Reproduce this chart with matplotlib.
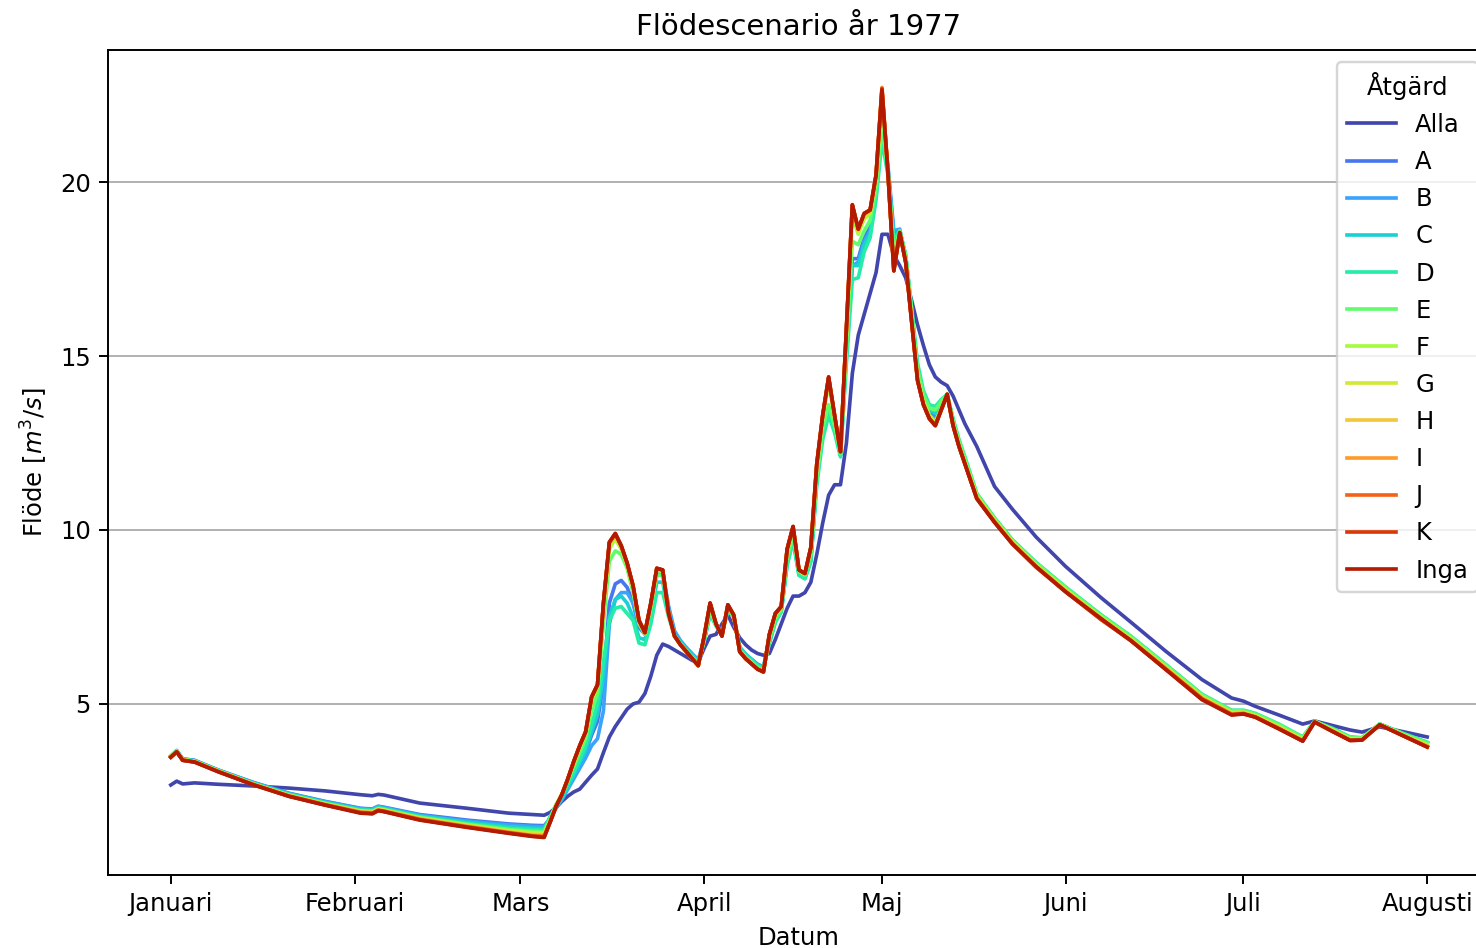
import matplotlib
matplotlib.use("Agg")
import matplotlib.pyplot as plt
import numpy as np
import pandas as pd

# ---- data -------------------------------------------------------------
start_date = "1977-01-01"
day_offsets = ([0, 1, 2, 4, 8, 14, 20, 26, 32, 34, 35, 36, 42, 50, 57, 61, 63]
               + list(range(64, 135))
               + [136, 139, 142, 146, 151, 157, 162, 168, 174, 179, 181, 183, 187,
                  191, 193, 196, 199, 201, 204, 208, 212])

month_ticks = ["1977-01-01", "1977-02-01", "1977-03-01", "1977-04-01",
               "1977-05-01", "1977-06-01", "1977-07-01", "1977-08-01"]
month_labels = ["Januari", "Februari", "Mars", "April", "Maj", "Juni", "Juli", "Augusti"]

series_names = ["Alla", "A", "B", "C", "D", "E", "F", "G", "H", "I", "J", "K", "Inga"]

alla = ([2.67, 2.78, 2.70, 2.73, 2.69, 2.64, 2.58, 2.50, 2.39, 2.36, 2.40, 2.38, 2.15, 2.00, 1.86, 1.82, 1.80]
        + [1.88, 2.02, 2.20, 2.35, 2.47, 2.55, 2.75, 2.95, 3.13, 3.60,
           4.05, 4.35, 4.60, 4.85, 5.00, 5.05, 5.30, 5.80, 6.40, 6.72,
           6.65, 6.55, 6.45, 6.35, 6.25, 6.20, 6.60, 6.95, 7.00, 7.30,
           7.55, 7.20, 6.90, 6.70, 6.55, 6.45, 6.40, 6.45, 6.85, 7.30,
           7.75, 8.10, 8.10, 8.20, 8.50, 9.30, 10.2, 11.0, 11.3, 11.3,
           12.5, 14.5, 15.6, 16.2, 16.8, 17.4, 18.5, 18.5, 17.9, 17.6,
           17.25, 16.6, 15.9, 15.3, 14.75, 14.4, 14.25, 14.15, 13.85, 13.45,
           13.05]
        + [12.4, 11.25, 10.6, 9.8, 8.95, 8.05, 7.35, 6.5, 5.7, 5.17, 5.08, 4.93, 4.68,
           4.42, 4.51, 4.38, 4.25, 4.19, 4.34, 4.2, 4.05])

a_vals = ([3.50, 3.66, 3.42, 3.38, 3.10, 2.74, 2.43, 2.20, 2.00, 1.98, 2.06, 2.03, 1.82, 1.66, 1.55, 1.51, 1.50]
          + [1.70, 2.05, 2.30, 2.60, 2.95, 3.25, 3.60, 4.10, 4.50, 5.60,
             7.90, 8.45, 8.55, 8.35, 7.90, 7.20, 7.00, 7.70, 8.70, 8.75,
             7.75, 7.05, 6.80, 6.60, 6.42, 6.25, 6.85, 7.65, 7.30, 7.05,
             7.75, 7.50, 6.62, 6.42, 6.28, 6.14, 6.06, 6.80, 7.40, 7.70,
             9.10, 9.80, 8.75, 8.65, 9.20, 11.5, 12.9, 13.5, 12.9, 12.15,
             15.4, 17.8, 17.8, 18.4, 18.7, 19.8, 21.9, 20.4, 18.5, 18.6,
             17.8, 16.1, 14.5, 13.8, 13.35, 13.25, 13.6, 13.9, 13.1, 12.5,
             12.0]
          + [11.0, 10.32, 9.7, 9.05, 8.33, 7.53, 6.92, 6.1, 5.25, 4.8, 4.8, 4.7, 4.39,
             4.02, 4.49, 4.28, 4.03, 4.02, 4.42, 4.14, 3.88])

b_vals = ([3.50, 3.66, 3.42, 3.37, 3.10, 2.73, 2.42, 2.19, 1.99, 1.97, 2.05, 2.02, 1.80, 1.63, 1.52, 1.48, 1.47]
          + [1.70, 2.00, 2.25, 2.55, 2.85, 3.15, 3.45, 3.80, 4.00, 4.80,
             7.30, 8.00, 8.20, 8.20, 7.90, 7.30, 7.05, 7.75, 8.75, 8.80,
             7.80, 7.10, 6.82, 6.62, 6.44, 6.26, 6.85, 7.65, 7.30, 7.05,
             7.75, 7.50, 6.63, 6.43, 6.28, 6.14, 6.06, 6.80, 7.40, 7.70,
             9.10, 9.80, 8.75, 8.65, 9.20, 11.5, 12.9, 13.4, 12.9, 12.15,
             15.3, 17.6, 17.7, 18.3, 18.6, 19.8, 21.8, 20.5, 18.6, 18.65,
             17.8, 16.1, 14.5, 13.8, 13.3, 13.2, 13.6, 13.9, 13.1, 12.5,
             12.0]
          + [11.0, 10.31, 9.69, 9.04, 8.32, 7.52, 6.91, 6.09, 5.24, 4.79, 4.79, 4.69, 4.38,
             4.01, 4.49, 4.28, 4.02, 4.01, 4.41, 4.13, 3.87])

c_vals = ([3.49, 3.65, 3.41, 3.37, 3.09, 2.72, 2.41, 2.17, 1.97, 1.95, 2.03, 2.00, 1.78, 1.60, 1.47, 1.43, 1.42]
          + [1.75, 2.05, 2.30, 2.60, 2.95, 3.30, 3.65, 4.20, 4.70, 5.80,
             7.50, 8.00, 8.10, 7.90, 7.50, 6.90, 6.85, 7.50, 8.50, 8.50,
             7.60, 7.00, 6.78, 6.58, 6.40, 6.22, 6.80, 7.60, 7.25, 7.00,
             7.70, 7.50, 6.62, 6.42, 6.27, 6.12, 6.05, 6.75, 7.35, 7.65,
             9.00, 9.70, 8.70, 8.60, 9.10, 11.4, 12.8, 13.4, 12.9, 12.15,
             15.0, 17.6, 17.6, 18.2, 18.5, 19.6, 21.4, 20.3, 18.4, 18.6,
             17.9, 16.3, 14.7, 13.9, 13.45, 13.35, 13.65, 13.9, 13.15, 12.55,
             12.05]
          + [11.02, 10.33, 9.7, 9.05, 8.34, 7.54, 6.93, 6.1, 5.26, 4.8, 4.8, 4.71, 4.4,
             4.03, 4.5, 4.29, 4.04, 4.02, 4.42, 4.14, 3.89])

d_vals = ([3.49, 3.65, 3.41, 3.36, 3.09, 2.71, 2.40, 2.16, 1.95, 1.93, 2.01, 1.98, 1.76, 1.57, 1.43, 1.39, 1.38]
          + [1.75, 2.10, 2.35, 2.70, 3.05, 3.40, 3.80, 4.40, 5.00, 6.20,
             7.40, 7.75, 7.80, 7.60, 7.40, 6.75, 6.70, 7.30, 8.20, 8.20,
             7.50, 6.95, 6.75, 6.55, 6.38, 6.20, 6.80, 7.60, 7.25, 7.00,
             7.70, 7.50, 6.60, 6.40, 6.25, 6.10, 6.02, 6.75, 7.35, 7.65,
             9.00, 9.70, 8.70, 8.60, 9.10, 11.3, 12.6, 13.3, 12.8, 12.1,
             14.8, 17.2, 17.25, 18.0, 18.4, 19.5, 21.2, 20.2, 18.3, 18.6,
             17.9, 16.4, 14.8, 14.0, 13.6, 13.55, 13.75, 13.9, 13.2, 12.6,
             12.1]
          + [11.05, 10.35, 9.72, 9.07, 8.36, 7.56, 6.95, 6.12, 5.28, 4.82, 4.82, 4.73, 4.42,
             4.05, 4.5, 4.3, 4.05, 4.03, 4.42, 4.15, 3.9])

e_vals = ([3.48, 3.64, 3.40, 3.35, 3.08, 2.70, 2.38, 2.14, 1.93, 1.91, 1.99, 1.96, 1.74, 1.54, 1.39, 1.34, 1.33]
          + [1.70, 2.10, 2.40, 2.80, 3.20, 3.60, 4.00, 4.80, 5.30, 7.30,
             9.10, 9.40, 9.30, 8.90, 8.20, 7.30, 7.00, 7.75, 8.70, 8.70,
             7.60, 6.95, 6.72, 6.52, 6.33, 6.15, 6.85, 7.70, 7.25, 7.00,
             7.75, 7.50, 6.55, 6.35, 6.20, 6.05, 5.98, 6.85, 7.45, 7.70,
             9.20, 9.85, 8.80, 8.70, 9.30, 11.5, 12.9, 13.6, 13.0, 12.2,
             15.2, 18.3, 18.2, 18.6, 18.9, 19.8, 21.6, 20.4, 18.0, 18.6,
             17.9, 16.3, 14.6, 13.9, 13.5, 13.45, 13.7, 13.9, 13.15, 12.55,
             12.05]
          + [11.03, 10.33, 9.7, 9.05, 8.34, 7.54, 6.93, 6.1, 5.26, 4.8, 4.8, 4.71, 4.4,
             4.03, 4.5, 4.28, 4.03, 4.02, 4.42, 4.13, 3.88])

f_vals = ([3.48, 3.64, 3.40, 3.35, 3.07, 2.69, 2.37, 2.13, 1.92, 1.90, 1.98, 1.95, 1.72, 1.52, 1.36, 1.30, 1.29]
          + [1.65, 2.08, 2.40, 2.83, 3.30, 3.75, 4.15, 5.10, 5.50, 7.70,
             9.45, 9.75, 9.45, 9.00, 8.30, 7.35, 7.03, 7.85, 8.85, 8.80,
             7.60, 6.95, 6.71, 6.51, 6.31, 6.12, 6.90, 7.85, 7.28, 6.97,
             7.82, 7.53, 6.52, 6.32, 6.17, 6.02, 5.94, 6.95, 7.55, 7.77,
             9.40, 10.05, 8.83, 8.73, 9.45, 11.8, 13.2, 14.2, 13.25, 12.24,
             15.6, 19.0, 18.5, 18.95, 19.1, 20.1, 22.3, 20.35, 17.6, 18.55,
             17.75, 16.1, 14.4, 13.7, 13.3, 13.1, 13.5, 13.9, 13.05, 12.45,
             11.95]
          + [10.98, 10.29, 9.67, 9.0, 8.29, 7.49, 6.88, 6.05, 5.21, 4.76, 4.77, 4.67, 4.35,
             3.99, 4.49, 4.26, 4.0, 4.0, 4.41, 4.11, 3.83])

g_vals = ([3.48, 3.63, 3.39, 3.34, 3.07, 2.69, 2.36, 2.12, 1.91, 1.89, 1.97, 1.94, 1.71, 1.50, 1.34, 1.27, 1.26]
          + [1.63, 2.07, 2.40, 2.84, 3.32, 3.77, 4.17, 5.15, 5.52, 7.80,
             9.55, 9.82, 9.50, 9.02, 8.35, 7.37, 7.04, 7.87, 8.87, 8.82,
             7.60, 6.95, 6.70, 6.50, 6.30, 6.11, 6.92, 7.87, 7.29, 6.96,
             7.83, 7.54, 6.51, 6.31, 6.16, 6.01, 5.93, 6.97, 7.57, 7.78,
             9.42, 10.07, 8.84, 8.74, 9.47, 11.85, 13.25, 14.3, 13.28, 12.25,
             15.7, 19.2, 18.58, 19.02, 19.15, 20.15, 22.5, 20.32, 17.52, 18.55,
             17.72, 16.05, 14.35, 13.65, 13.25, 13.05, 13.48, 13.9, 13.02, 12.42,
             11.92]
          + [10.96, 10.27, 9.65, 8.98, 8.27, 7.47, 6.86, 6.03, 5.19, 4.74, 4.76, 4.66, 4.33,
             3.97, 4.49, 4.25, 3.98, 3.99, 4.41, 4.1, 3.81])

h_vals = ([3.47, 3.63, 3.39, 3.34, 3.06, 2.68, 2.36, 2.11, 1.90, 1.88, 1.96, 1.93, 1.70, 1.49, 1.32, 1.24, 1.23]
          + [1.61, 2.06, 2.40, 2.85, 3.34, 3.79, 4.19, 5.18, 5.54, 7.85,
             9.60, 9.86, 9.52, 9.03, 8.38, 7.39, 7.05, 7.88, 8.88, 8.84,
             7.60, 6.95, 6.70, 6.50, 6.30, 6.10, 6.93, 7.88, 7.30, 6.95,
             7.84, 7.55, 6.50, 6.30, 6.15, 6.00, 5.92, 6.98, 7.58, 7.79,
             9.44, 10.09, 8.85, 8.75, 9.48, 11.88, 13.28, 14.35, 13.3, 12.25,
             15.75, 19.3, 18.62, 19.06, 19.18, 20.18, 22.7, 20.3, 17.48, 18.55,
             17.71, 16.02, 14.32, 13.62, 13.22, 13.02, 13.46, 13.9, 13.01, 12.41,
             11.91]
          + [10.94, 10.25, 9.63, 8.96, 8.25, 7.45, 6.84, 6.01, 5.17, 4.72, 4.74, 4.64, 4.31,
             3.95, 4.48, 4.23, 3.97, 3.98, 4.4, 4.09, 3.79])

i_vals = ([3.47, 3.63, 3.39, 3.34, 3.06, 2.68, 2.35, 2.11, 1.89, 1.87, 1.95, 1.92, 1.69, 1.48, 1.31, 1.22, 1.21]
          + [1.60, 2.05, 2.40, 2.85, 3.35, 3.80, 4.20, 5.19, 5.55, 7.88,
             9.63, 9.88, 9.54, 9.04, 8.39, 7.40, 7.05, 7.89, 8.89, 8.85,
             7.60, 6.95, 6.70, 6.50, 6.30, 6.10, 6.94, 7.89, 7.30, 6.95,
             7.85, 7.55, 6.50, 6.30, 6.15, 6.00, 5.92, 6.99, 7.59, 7.80,
             9.45, 10.1, 8.85, 8.75, 9.49, 11.89, 13.29, 14.38, 13.3, 12.25,
             15.78, 19.33, 18.64, 19.08, 19.19, 20.19, 22.72, 20.3, 17.46, 18.55,
             17.70, 16.01, 14.31, 13.61, 13.21, 13.01, 13.45, 13.9, 13.0, 12.4,
             11.9]
          + [10.92, 10.24, 9.62, 8.95, 8.24, 7.44, 6.83, 6.0, 5.16, 4.71, 4.73, 4.63, 4.3,
             3.94, 4.48, 4.22, 3.96, 3.97, 4.4, 4.09, 3.78])

j_vals = ([3.47, 3.62, 3.38, 3.33, 3.06, 2.68, 2.35, 2.10, 1.88, 1.86, 1.94, 1.91, 1.68, 1.47, 1.30, 1.21, 1.19]
          + [1.60, 2.05, 2.40, 2.85, 3.35, 3.80, 4.20, 5.20, 5.55, 7.89,
             9.64, 9.89, 9.55, 9.05, 8.40, 7.40, 7.05, 7.90, 8.90, 8.85,
             7.60, 6.95, 6.70, 6.50, 6.30, 6.10, 6.95, 7.90, 7.30, 6.95,
             7.85, 7.55, 6.50, 6.30, 6.15, 6.00, 5.92, 7.00, 7.60, 7.80,
             9.45, 10.1, 8.85, 8.75, 9.50, 11.9, 13.3, 14.39, 13.3, 12.25,
             15.79, 19.34, 18.65, 19.1, 19.2, 20.2, 22.7, 20.3, 17.45, 18.55,
             17.70, 16.0, 14.3, 13.6, 13.2, 13.0, 13.45, 13.9, 13.0, 12.4,
             11.9]
          + [10.91, 10.23, 9.61, 8.94, 8.23, 7.43, 6.82, 5.99, 5.15, 4.7, 4.72, 4.62, 4.29,
             3.94, 4.48, 4.22, 3.95, 3.96, 4.4, 4.08, 3.77])

k_vals = ([3.47, 3.62, 3.38, 3.33, 3.05, 2.67, 2.34, 2.10, 1.87, 1.85, 1.94, 1.91, 1.67, 1.46, 1.29, 1.20, 1.17]
          + [1.60, 2.05, 2.40, 2.85, 3.35, 3.80, 4.20, 5.20, 5.55, 7.90,
             9.65, 9.90, 9.55, 9.05, 8.40, 7.40, 7.05, 7.90, 8.90, 8.85,
             7.60, 6.95, 6.70, 6.50, 6.30, 6.10, 6.95, 7.90, 7.30, 6.95,
             7.85, 7.55, 6.50, 6.30, 6.15, 6.00, 5.92, 7.00, 7.60, 7.80,
             9.45, 10.1, 8.85, 8.75, 9.50, 11.9, 13.3, 14.4, 13.3, 12.25,
             15.8, 19.35, 18.65, 19.1, 19.2, 20.2, 22.68, 20.3, 17.45, 18.55,
             17.70, 16.0, 14.3, 13.6, 13.2, 13.0, 13.45, 13.9, 13.0, 12.4,
             11.9]
          + [10.9, 10.22, 9.6, 8.93, 8.22, 7.42, 6.82, 5.98, 5.14, 4.69, 4.72, 4.62, 4.28,
             3.93, 4.48, 4.21, 3.95, 3.96, 4.4, 4.08, 3.76])

inga = ([3.47, 3.62, 3.38, 3.33, 3.05, 2.67, 2.34, 2.09, 1.86, 1.84, 1.93, 1.90, 1.66, 1.45, 1.28, 1.19, 1.16]
        + [1.60, 2.05, 2.40, 2.85, 3.35, 3.80, 4.20, 5.20, 5.55, 7.90,
           9.65, 9.90, 9.55, 9.05, 8.40, 7.40, 7.05, 7.90, 8.90, 8.85,
           7.60, 6.95, 6.70, 6.50, 6.30, 6.10, 6.95, 7.90, 7.30, 6.95,
           7.85, 7.55, 6.50, 6.30, 6.15, 6.00, 5.92, 7.00, 7.60, 7.80,
           9.45, 10.1, 8.85, 8.75, 9.50, 11.9, 13.3, 14.4, 13.3, 12.25,
           15.8, 19.35, 18.65, 19.1, 19.2, 20.2, 22.65, 20.3, 17.45, 18.55,
           17.70, 16.0, 14.3, 13.6, 13.2, 13.0, 13.45, 13.9, 13.0, 12.4,
           11.9]
        + [10.9, 10.22, 9.6, 8.95, 8.22, 7.45, 6.82, 5.97, 5.12, 4.68, 4.71, 4.62, 4.28,
           3.93, 4.48, 4.21, 3.95, 3.96, 4.4, 4.08, 3.76])

all_series = [alla, a_vals, b_vals, c_vals, d_vals, e_vals, f_vals, g_vals,
              h_vals, i_vals, j_vals, k_vals, inga]

# ---- plot -------------------------------------------------------------
dpi = 175
fig = plt.figure(figsize=(1476 / dpi, 948 / dpi), dpi=dpi)
ax = fig.add_axes([108 / 1476, 73 / 948, 1382 / 1476, 825 / 948])

dates = pd.Timestamp(start_date) + pd.to_timedelta(day_offsets, unit="D")
n = len(series_names)
colors = plt.cm.turbo(np.linspace(0, 1, n + 2)[1:-1])

for name, vals, col in zip(series_names, all_series, colors):
    assert len(vals) == len(day_offsets), name
    ax.plot(dates, vals, color=col, label=name, linewidth=1.5)

ax.set_xticks(pd.to_datetime(month_ticks))
ax.set_xticklabels(month_labels)
ax.yaxis.grid(True, color="#b0b0b0", linewidth=0.8)
ax.set_axisbelow(True)

ax.set_title("Flödescenario år 1977")
ax.set_xlabel("Datum")
ax.set_ylabel("Flöde [$m^3/s$]")
ax.legend(title="Åtgärd", loc="upper right", labelspacing=0.54)

fig.savefig("out.png", dpi=dpi)
